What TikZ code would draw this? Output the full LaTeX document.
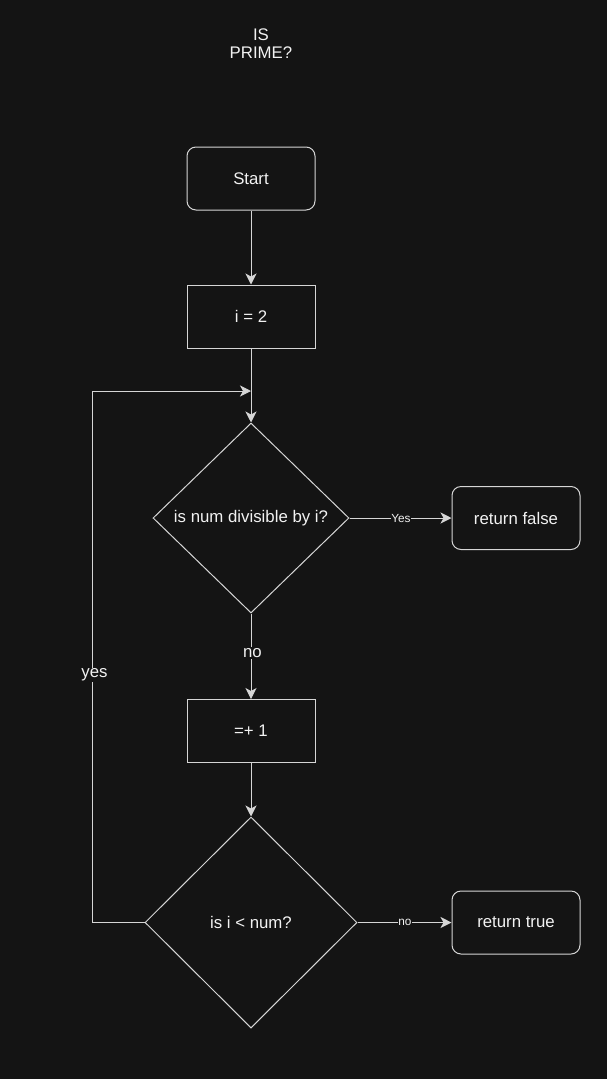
\documentclass[tikz,border=0pt]{standalone}
\usepackage{fontspec}
\setmainfont{Liberation Sans}
\usetikzlibrary{shapes.geometric,arrows.meta}
\definecolor{bgc}{HTML}{141414}
\definecolor{linec}{HTML}{D6D6D6}
\definecolor{textc}{HTML}{F2F2F2}
\tikzset{
  base/.style={draw=linec, line width=1pt, text=textc, font=\fontsize{16.8}{20}\selectfont, inner sep=0pt},
  termbox/.style={base, rectangle, rounded corners=9pt, minimum width=128pt, minimum height=63pt},
  procbox/.style={base, rectangle, minimum width=128pt, minimum height=63pt},
  decbox/.style={base, diamond, aspect=1},
  conn/.style={draw=linec, line width=1pt, -{Stealth[length=11pt, width=11pt, inset=3pt]}},
  biglabel/.style={fill=bgc, text=textc, font=\fontsize{16.8}{20}\selectfont, inner sep=1pt},
  smalllabel/.style={fill=bgc, text=textc, font=\fontsize{11.8}{13}\selectfont, inner sep=0.5pt},
}
\begin{document}
\begin{tikzpicture}[x=1pt, y=-1pt]
\fill[bgc] (0,0) rectangle (607,1079);
\useasboundingbox (0,0) rectangle (607,1079);
\node[text=textc, align=center, font=\fontsize{16.8}{18}\selectfont] (title) at (261,44) {IS\\PRIME?};
\node[termbox] (start) at (251,178.5) {Start};
\node[procbox] (init) at (251,316.5) {i = 2};
\node[decbox, minimum width=196pt, minimum height=190pt] (div) at (251,518) {is num divisible by i?};
\node[termbox] (rfalse) at (516,518) {return false};
\node[procbox] (inc) at (251,731) {=+ 1};
\node[decbox, minimum width=212pt, minimum height=211pt] (less) at (251,922.5) {is i < num?};
\node[termbox] (rtrue) at (516,922.5) {return true};
\coordinate (join) at (251,391);
\coordinate (loopbot) at (92,922.5);
\coordinate (looptop) at (92,391);
\draw[conn] (start) -- (init);
\draw[conn] (init) -- (div);
\draw[conn] (div) -- node[biglabel, pos=0.45, xshift=1.5pt, yshift=-1pt] {no} (inc);
\draw[conn] (div.east) -- node[smalllabel, pos=0.505] {Yes} (rfalse.west);
\draw[conn] (inc) -- (less);
\draw[conn] (less.east) -- node[smalllabel, pos=0.505] {no} (rtrue.west);
\draw[conn] (less.west) -- (loopbot) -- node[biglabel, pos=0.466, xshift=2.5pt] {yes} (looptop) -- (join);
\end{tikzpicture}
\end{document}
